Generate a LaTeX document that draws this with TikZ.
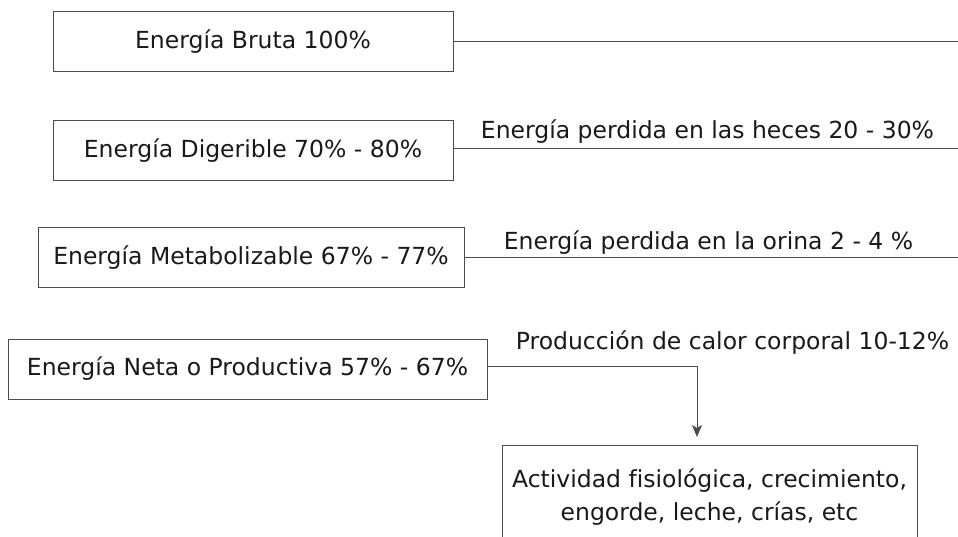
\documentclass[tikz,border=0pt]{standalone}
\usepackage{fontspec}
\setmainfont[Ligatures=NoCommon]{DejaVu Sans}
\usetikzlibrary{arrows.meta}
\tikzset{
  caja/.style={draw=black!70, line width=1pt, minimum height=60pt, inner sep=0pt},
  linea/.style={draw=black!70, line width=1pt},
  nota/.style={anchor=base, inner sep=0pt},
}
\begin{document}
\begin{tikzpicture}[>={Stealth[length=12pt,width=10pt,inset=3pt]}, x=1pt, y=-1pt,
  font=\fontsize{23.5}{33}\selectfont, text=black!90]
\useasboundingbox (0,0) rectangle (958,537);
\node[caja,minimum width=400pt] (E1) at (253,42){Energía Bruta 100\%};
\node[caja,minimum width=400pt] (E2) at (253,151){Energía Digerible 70\% - 80\%};
\node[caja,minimum width=426pt] (E3) at (251,258){Energía Metabolizable 67\% - 77\%};
\node[caja,minimum width=479pt] (E4) at (247.5,369){Energía Neta o Productiva 57\% - 67\%};
\node[caja,align=center,minimum width=415pt,inner ysep=23pt,anchor=north] (E5) at (709.5,445)
  {Actividad fisiológica, crecimiento,\\engorde, leche, crías, etc};

\coordinate (D1) at (958,42);
\coordinate (D2) at (958,149);
\coordinate (D3) at (958,258);
\draw[linea](E1)--(D1);
\draw[linea]([yshift=2pt]E2.east)--(D2);
\draw[linea](E3)--(D3);
\draw[linea,->]([yshift=3pt]E4.east)-|([xshift=-12.5pt,yshift=8pt]E5.north);

\node[nota] (P2) at (707.5,139){Energía perdida en las heces 20 - 30\%};
\node[nota] (P3) at (708.5,250){Energía perdida en la orina 2 - 4 \%};
\node[nota] (P4) at (732.5,349){Producción de calor corporal 10-12\%};
\end{tikzpicture}
\end{document}
